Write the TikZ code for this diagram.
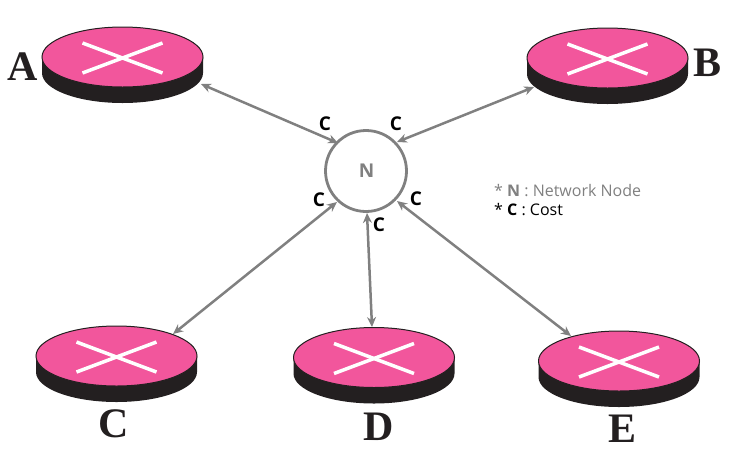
\documentclass[tikz,border=0pt]{standalone}
\usepackage{fontspec}
\setmainfont{Open Sans}
\newfontfamily\lblfont{Liberation Serif}
\usetikzlibrary{shapes.geometric,arrows.meta}
\definecolor{pinkr}{HTML}{F2569C}
\definecolor{darkr}{HTML}{231F20}
\definecolor{gr}{HTML}{808080}
\tikzset{
  x=1pt,y=-1pt,
  rtop/.style={ellipse,draw=darkr,line width=1pt,fill=pinkr,minimum width=161pt,minimum height=60pt,inner sep=0pt},
  link/.style={draw=gr,line width=2.5pt,{Stealth[length=10pt,width=9pt]}-{Stealth[length=10pt,width=9pt]}},
  crossline/.style={draw=white,line width=3.5pt},
  cost/.style={font=\fontsize{19}{19}\selectfont\bfseries,text=black,inner sep=0pt},
  letter/.style={font=\fontsize{42}{42}\selectfont\lblfont\bfseries,text=darkr,inner sep=0pt},
  legend/.style={font=\fontsize{16}{18}\selectfont,inner sep=0pt,anchor=west},
  pics/router/.style={code={
    \fill[darkr] (-80.5,0) -- (-80.5,16) arc[start angle=180,end angle=0,x radius=80.5,y radius=30] -- (80.5,0) -- cycle;
    \node[rtop] at (0,0) {};
    \draw[crossline] (-40,-14) -- (40,16);
    \draw[crossline] (-40,16) -- (40,-14);
  }}
}
\begin{document}
\begin{tikzpicture}
\useasboundingbox (0,0) rectangle (735,456);
\pic at (122.5,57) {router};
\pic at (607.5,58) {router};
\pic at (116.5,356) {router};
\pic at (374,357.5) {router};
\pic at (619,361) {router};
\coordinate (ra) at (201,84);
\coordinate (rb) at (534,87);
\coordinate (rc) at (173,334);
\coordinate (rd) at (372,327);
\coordinate (re) at (571,336);
\node[circle,draw=gr,line width=2.8pt,minimum size=81pt,inner sep=0pt,fill=white] (n) at (366,171) {};
\node[font=\fontsize{19}{19}\selectfont\bfseries,text=gr] (nl) at (366.5,171) {N};
\coordinate (na) at (338,143);
\coordinate (nb) at (397,142);
\coordinate (nc) at (337,202);
\coordinate (nd) at (367,213);
\coordinate (ne) at (397,201);
\draw[link] (ra) -- (na);
\draw[link] (rb) -- (nb);
\draw[link] (rc) -- (nc);
\draw[link] (rd) -- (nd);
\draw[link] (re) -- (ne);
\node[cost] (c1) at (325,124) {C};
\node[cost] (c2) at (396,124) {C};
\node[cost] (c3) at (319,200) {C};
\node[cost] (c4) at (416,199) {C};
\node[cost] (c5) at (379,225) {C};
\node[letter] (la) at (22.5,66.5) {A};
\node[letter] (lb) at (707,63) {B};
\node[letter] (lc) at (114,423.5) {C};
\node[letter] (ld) at (379,427) {D};
\node[letter] (le) at (622.5,429) {E};
\node[legend,text=gr] (l1) at (494,190.5) {* \textbf{N} : Network Node};
\node[legend,text=black] (l2) at (494,209.5) {* \textbf{C} : Cost};
\end{tikzpicture}
\end{document}
